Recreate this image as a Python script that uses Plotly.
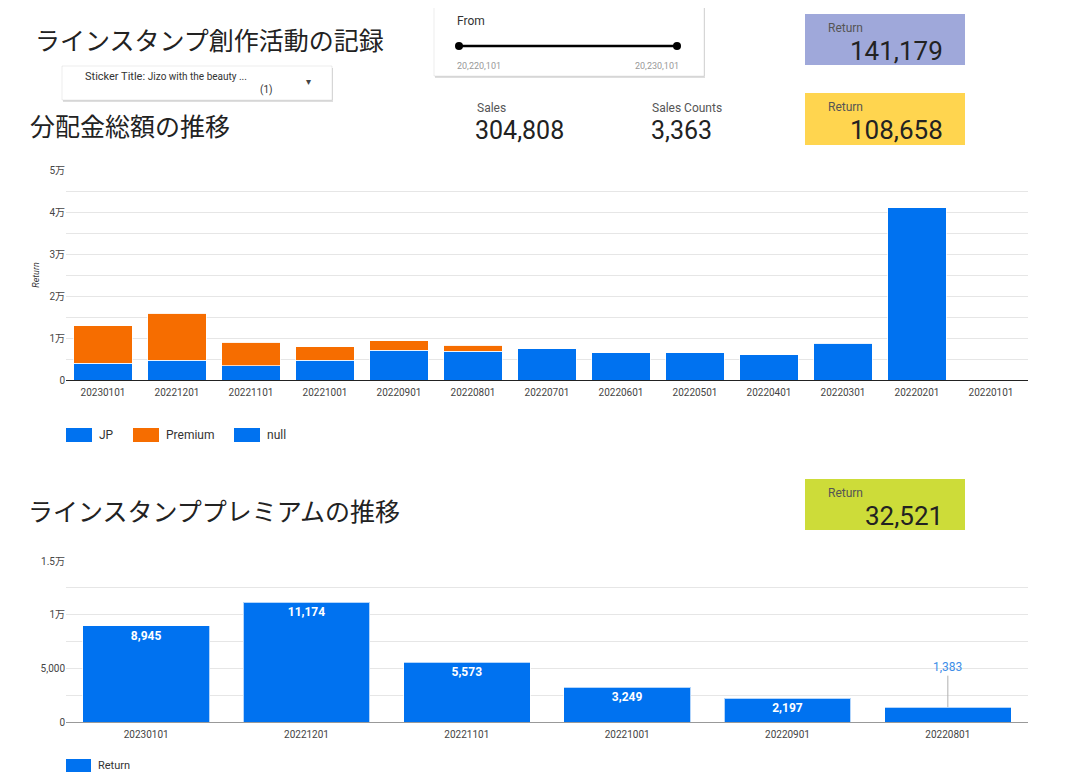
import plotly.graph_objects as go

W, H = 1070, 784
PAGE_MARGIN = 8  # the html body margin shifts the figure by this much

# data
months = ["20230101", "20221201", "20221101", "20221001", "20220901", "20220801", "20220701",
          "20220601", "20220501", "20220401", "20220301", "20220201", "20220101"]
jp_return = [4000, 4700, 3400, 4700, 7100, 6900, 7400, 6500, 6500, 6000, 8800, 41000, 0]
null_return = [0, 0, 0, 0, 0, 0, 0, 0, 0, 0, 0, 0, 0]

prem_months = ["20230101", "20221201", "20221101", "20221001", "20220901", "20220801"]
prem_return = [8945, 11174, 5573, 3249, 2197, 1383]

top_ticks = [0, 5000, 10000, 15000, 20000, 25000, 30000, 35000, 40000, 45000, 50000]
top_ticktext = ["0", "", "1万", "", "2万", "", "3万", "", "4万", "", "5万"]
bottom_ticks = [0, 2500, 5000, 7500, 10000, 12500, 15000]
bottom_ticktext = ["0", "", "5,000", "", "1万", "", "1.5万"]

sales = 304808
sales_counts = 3363
return_total = 141179
return_jp = 108658
return_premium = 32521
date_from = 20220101
date_to = 20230101

BLUE = "#0072f0"
ORANGE = "#f66d00"
FONT = "Roboto, Noto Sans CJK JP"
JFONT = "Noto Sans CJK JP"


def fx(x):
    return (x - PAGE_MARGIN) / W


def fy(y):
    return 1 - (y - PAGE_MARGIN) / H


fig = go.Figure()

bar_line = dict(color="rgba(255,255,255,0.7)", width=1)
top_series = [("JP", months, jp_return, BLUE),
              ("Premium", prem_months, prem_return, ORANGE),
              ("null", months, null_return, BLUE)]
for name, xs, ys, color in top_series:
    fig.add_trace(go.Bar(x=xs, y=ys, name=name, marker=dict(color=color, line=bar_line),
                         xaxis="x", yaxis="y", showlegend=False))

# bottom chart: labels inside when the bar is tall enough
inside_text = [f"<b>{v:,}</b>" if v >= 2000 else "" for v in prem_return]
fig.add_trace(go.Bar(x=prem_months, y=prem_return, name="Return", marker=dict(color=BLUE, line=bar_line),
                     text=inside_text, textposition="inside", insidetextanchor="end",
                     textfont=dict(color="white", size=12, family=FONT),
                     xaxis="x2", yaxis="y2", showlegend=False))

annotations = []
for i, v in enumerate(prem_return):
    if v < 2000:
        annotations.append(dict(x=i, y=v, xref="x2", yref="y2", text=f"{v:,}", showarrow=True,
                                arrowhead=0, arrowwidth=1, arrowcolor="#b0b0b0", ax=0, ay=-40,
                                font=dict(size=12, color="#3d8ee8", family=FONT)))


def text(x, y, s, size, color="#333", anchor="left", family=FONT):
    annotations.append(dict(x=fx(x), y=fy(y), xref="paper", yref="paper", text=s, showarrow=False,
                            xanchor=anchor, yanchor="middle", font=dict(size=size, color=color, family=family)))


shapes = []


def rect(x0, y0, x1, y1, fill, line=None):
    shapes.append(dict(type="rect", xref="paper", yref="paper", x0=fx(x0), x1=fx(x1),
                       y0=fy(y1), y1=fy(y0), fillcolor=fill, line=line or dict(width=0)))


def box(x0, y0, x1, y1):
    rect(x0 + 1, y0 + 2, x1 + 1, y1 + 2, "rgba(0,0,0,0.13)")
    rect(x0, y0, x1, y1, "white", dict(color="rgba(0,0,0,0.07)", width=1))


def card(x0, y0, x1, y1, color, value):
    rect(x0, y0, x1, y1, color)
    text(x0 + 21, y0 + 14, "Return", 12, "#555")
    text(x1 - 20, y0 + 37, f"{value:,}", 26, "#222", anchor="right")


# titles
text(33, 39, "ラインスタンプ創作活動の記録", 25, "#222", family=JFONT)
text(28, 125, "分配金総額の推移", 25, "#222", family=JFONT)
text(26, 510, "ラインスタンププレミアムの推移", 25, "#222", family=JFONT)

# filter dropdown
box(62, 66, 332, 100)
text(83, 76, "Sticker Title: <span style='font-size:10px'>Jizo with the beauty ...</span>", 11, "#333")
text(275, 90, "(1)", 10, "#333", anchor="right")
text(308, 82, "▾", 10, "#444", anchor="center")

# date slider
box(434, 5, 704, 76)
text(455, 21, "From", 12, "#333")
shapes.append(dict(type="line", xref="paper", yref="paper", x0=fx(459), x1=fx(677), y0=fy(46), y1=fy(46),
                   line=dict(color="black", width=2.5)))
for cx in (459, 677):
    shapes.append(dict(type="circle", xref="paper", yref="paper", x0=fx(cx - 4), x1=fx(cx + 4),
                       y0=fy(50), y1=fy(42), fillcolor="black", line=dict(width=0)))
text(455, 66, f"{date_from:,}", 9, "#999")
text(681, 66, f"{date_to:,}", 9, "#999", anchor="right")

# scorecards
text(475, 108, "Sales", 12, "#555")
text(473, 131, f"{sales:,}", 25, "#222")
text(650, 108, "Sales Counts", 12, "#555")
text(649, 131, f"{sales_counts:,}", 25, "#222")
card(805, 14, 965, 65, "#9fa8da", return_total)
card(805, 93, 965, 145, "#ffd54f", return_jp)
card(805, 479, 965, 530, "#cddc39", return_premium)

# legends (wide swatches like the original dashboard)
top_legend_x = [66, 133, 234]
for (name, _, _, color), lx in zip(top_series, top_legend_x):
    rect(lx, 428, lx + 26, 442, color)
    text(lx + 31, 435, name, 12, "#333")
rect(66, 759, 91, 772, BLUE)
text(96, 765, "Return", 11, "#333")

tick_font = dict(size=10, color="#444", family=FONT)
fig.update_layout(
    width=W, height=H,
    margin=dict(l=0, r=0, t=0, b=0, pad=0, autoexpand=False),
    paper_bgcolor="white", plot_bgcolor="white",
    barmode="stack",
    font=dict(family=FONT, color="#333"),
    showlegend=False,
    xaxis=dict(domain=[fx(66), fx(1028)], anchor="y", type="category", categoryorder="array",
               categoryarray=months, range=[-0.5, 12.5], tickfont=tick_font, showline=True,
               linecolor="#222", linewidth=1, ticks="", showgrid=False, automargin=False,
               ticklabelstandoff=3),
    yaxis=dict(domain=[fy(380), fy(170)], anchor="x", range=[0, 50000], tickmode="array",
               tickvals=top_ticks, ticktext=top_ticktext, tickfont=tick_font, showgrid=True,
               gridcolor="#e6e6e6", gridwidth=1, zeroline=False, ticks="", automargin=False,
               title=dict(text="Return", font=dict(size=9, color="#333", style="italic"), standoff=8)),
    xaxis2=dict(domain=[fx(66), fx(1028)], anchor="y2", type="category", categoryorder="array",
                categoryarray=prem_months, range=[-0.5, 5.5], tickfont=tick_font, showline=True,
                linecolor="#999", linewidth=1, ticks="", showgrid=False, automargin=False,
                ticklabelstandoff=3),
    yaxis2=dict(domain=[fy(722), fy(561)], anchor="x2", range=[0, 15000], tickmode="array",
                tickvals=bottom_ticks, ticktext=bottom_ticktext, tickfont=tick_font, showgrid=True,
                gridcolor="#e6e6e6", gridwidth=1, zeroline=False, ticks="", automargin=False),
    bargap=0.21,
    annotations=annotations,
    shapes=shapes,
)

fig.write_html("out.html")
